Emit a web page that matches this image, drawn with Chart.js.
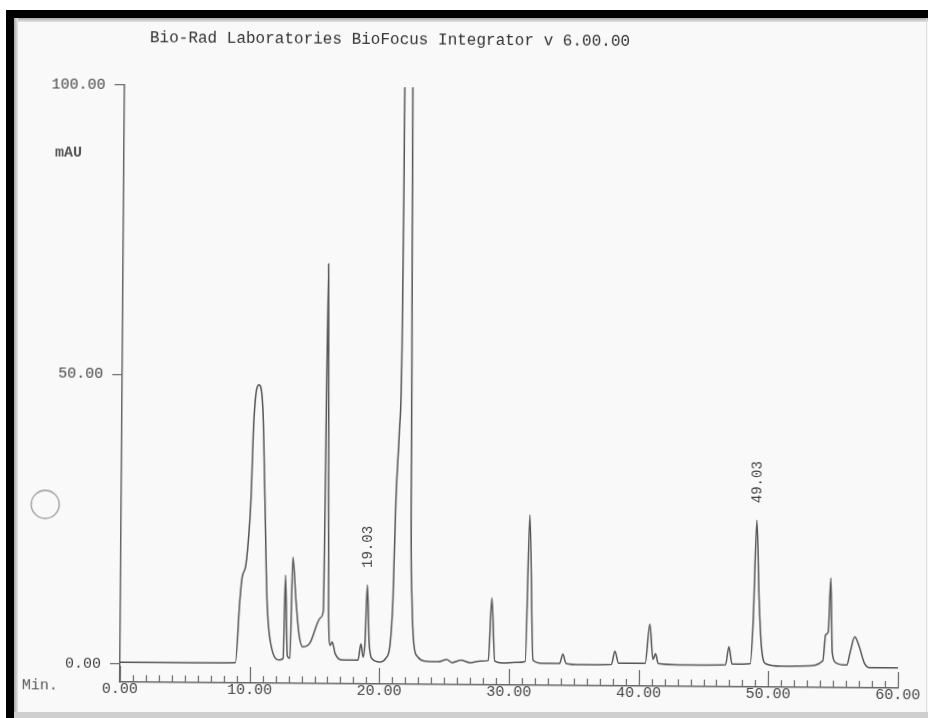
<!DOCTYPE html>
<html>
<head>
<meta charset="utf-8">
<script src="https://cdn.jsdelivr.net/npm/chart.js@4.4.1/dist/chart.umd.min.js"></script>
<style>
    body { margin: 0; width: 928px; height: 718px; overflow: hidden; background: #fff; position: relative; }
    .paper { position: absolute; left: 14px; top: 18px; right: 0; bottom: 0; background: #f9f9f9; }
    .edge-top { position: absolute; left: 14px; top: 18px; right: 0; height: 4px; background: linear-gradient(#a8a8a8, #e6e6e6); z-index: 3; }
    .edge-left { position: absolute; left: 14px; top: 18px; width: 4px; bottom: 6px; background: linear-gradient(90deg, #a8a8a8, #e6e6e6); z-index: 3; }
    .bar-top { position: absolute; left: 6px; top: 10px; right: 0; height: 8px; background: #000; z-index: 4; }
    .bar-left { position: absolute; left: 6px; top: 10px; width: 8px; bottom: 0; background: #000; z-index: 4; }
    .bar-bottom { position: absolute; left: 14px; right: 0; top: 712px; bottom: 0; background: #cfcfcf; z-index: 3; }
    .edge-right { position: absolute; top: 18px; bottom: 6px; left: 926px; width: 1px; background: #dedede; z-index: 3; }
    #chart { position: absolute; left: 0; top: 0; z-index: 2; transform-origin: 120px 664px; transform: rotate(0.45deg); }
</style>
</head>
<body>
<div class="paper"></div>
<canvas id="chart" width="928" height="718"></canvas>
<div class="edge-top"></div>
<div class="edge-left"></div>
<div class="edge-right"></div>
<div class="bar-bottom"></div>
<div class="bar-top"></div>
<div class="bar-left"></div>
<script>
// trace: migration time (min) and absorbance (mAU)
var timeMin = [
    0.0, 8.9, 9.2, 9.36, 9.65, 9.88, 10.0, 10.18, 10.55, 10.87, 11.08, 11.3, 11.63, 12.3,
    12.58, 12.71, 12.9, 13.1, 13.27, 13.53, 13.79, 14.1, 14.64, 15.45, 15.65, 15.85, 16.05,
    16.2, 16.35, 16.6, 17.2, 18.35, 18.57, 18.75, 18.88, 19.03, 19.2, 19.45, 20.04,
    20.51, 20.81, 21.01, 21.18, 21.41, 21.55, 21.61, 21.62, 21.93, 22.24, 22.28, 22.33,
    22.36, 22.48, 22.66, 22.97, 23.5, 24.5, 25.2, 25.6, 26.3, 27.0, 27.8, 28.4, 28.64,
    28.9, 29.5, 30.5, 31.25, 31.52, 31.85, 32.5, 33.9, 34.15, 34.4, 35.5, 37.9, 38.16,
    38.45, 40.5, 40.84, 41.1, 41.3, 41.5, 43.0, 46.7, 46.95, 47.2, 48.6, 48.8, 49.03,
    49.25, 49.45, 49.8, 51.0, 53.0, 54.2, 54.4, 54.6, 54.77, 54.92, 55.2, 56.05, 56.3,
    56.65, 57.0, 57.4, 57.8, 60.0
]
var absMAU = [
    0.3, 0.4, 11.0, 15.0, 17.3, 23.3, 28.5, 42.3, 48.4, 44.1, 28.5, 11.2, 3.5, 0.9,
    1.2, 15.6, 1.6, 1.2, 18.7, 11.3, 5.3, 3.2, 3.9, 8.3, 9.5, 69.4, 10.0,
    3.5, 4.1, 2.0, 1.0, 1.0, 3.8, 1.5, 4.0, 14.0, 4.0, 1.2, 0.7,
    1.4, 3.6, 11.4, 28.7, 40.8, 52.9, 80.5, 100.0, 140.0, 100.0, 75.0, 52.9,
    28.7, 11.4, 3.6, 1.6, 0.9, 0.8, 1.2, 0.7, 1.1, 0.7, 1.0, 1.1, 11.9,
    1.0, 0.7, 0.8, 1.0, 26.3, 1.2, 0.7, 0.7, 2.3, 0.7, 0.5, 0.6, 2.9,
    0.8, 0.8, 7.6, 1.5, 2.5, 0.8, 0.6, 0.7, 3.8, 0.8, 0.9, 8.0, 25.7,
    12.0, 4.0, 0.9, 0.5, 0.6, 1.5, 6.0, 6.5, 15.8, 3.0, 1.2, 0.8, 3.0,
    5.7, 4.0, 1.2, 0.4, 0.4
]
var xTicks = [0, 10, 20, 30, 40, 50, 60]
var yTicks = [0, 50, 100]
var peakLabels = ["19.03", "49.03"]
var peakTimes = [19.03, 49.03]
var peakMAU = [14.0, 25.7]

var mono = "'Liberation Mono', 'DejaVu Sans Mono', monospace"

var points = timeMin.map(function (t, i) {
    return { x: t, y: absMAU[i] }
})

var printout = {
    id: "printout",
    afterDraw: function (chart) {
        var ctx = chart.ctx
        var xs = chart.scales.x
        var ys = chart.scales.y
        var area = chart.chartArea
        ctx.save()
        // ruler ticks, every minute, long ones every ten
        ctx.strokeStyle = "#666"
        ctx.lineWidth = 1.2
        for (var m = 0; m <= 60; m++) {
            var px = Math.round(xs.getPixelForValue(m)) + 0.5
            var len = m % 10 === 0 ? 16 : 7
            ctx.beginPath()
            ctx.moveTo(px, area.bottom)
            ctx.lineTo(px, area.bottom - len)
            ctx.stroke()
        }
        ctx.fillStyle = "#333"
        ctx.textBaseline = "middle"
        ctx.textAlign = "left"
        ctx.font = "16px " + mono
        ctx.fillText("Bio-Rad Laboratories BioFocus Integrator v 6.00.00", 145, 38)
        ctx.font = "bold 15px " + mono
        ctx.fillStyle = "#555"
        ctx.fillText("mAU", 51, 153)
        ctx.font = "15px " + mono
        ctx.fillText("Min.", 22, 686)
        // peak annotations, printed sideways
        ctx.font = "14px " + mono
        ctx.fillStyle = "#444"
        peakLabels.forEach(function (label, i) {
            var lx = xs.getPixelForValue(peakTimes[i]) + 1
            var ly = ys.getPixelForValue(peakMAU[i]) - 38
            ctx.save()
            ctx.translate(lx, ly)
            ctx.rotate(-Math.PI / 2)
            ctx.textAlign = "center"
            ctx.fillText(label, 0, 0)
            ctx.restore()
        })
        // punch hole mark on the scan
        ctx.strokeStyle = "#999"
        ctx.lineWidth = 1.3
        ctx.beginPath()
        ctx.arc(44, 505, 14, 0, Math.PI * 2)
        ctx.stroke()
        ctx.restore()
    }
}

var CHART = new Chart(document.getElementById("chart"), {
    type: "line",
    data: {
        datasets: [{
            data: points,
            borderColor: "#555",
            borderWidth: 1.5,
            pointRadius: 0,
            fill: false,
            cubicInterpolationMode: "monotone"
        }]
    },
    options: {
        responsive: false,
        animation: false,
        layout: { padding: { left: 0, top: 85, right: 30, bottom: 0 } },
        plugins: { legend: { display: false }, tooltip: { enabled: false }, title: { display: false } },
        scales: {
            x: {
                type: "linear",
                min: 0,
                max: 60,
                afterBuildTicks: function (axis) {
                    axis.ticks = xTicks.map(function (v) { return { value: v } })
                },
                afterFit: function (axis) { axis.height = 36 },
                grid: { drawOnChartArea: false, drawTicks: false, color: "rgba(0,0,0,0)" },
                border: { display: true, color: "#666", width: 1.5 },
                ticks: {
                    padding: -2,
                    maxRotation: 0,
                    autoSkip: false,
                    color: "#444",
                    font: { family: mono, size: 15 },
                    callback: function (v) { return Number(v).toFixed(2) }
                }
            },
            y: {
                min: -3.11,
                max: 100,
                afterBuildTicks: function (axis) {
                    axis.ticks = yTicks.map(function (v) { return { value: v } })
                },
                afterFit: function (axis) { axis.width = 120 },
                grid: { drawOnChartArea: false, drawTicks: true, tickLength: 10, color: "#777", lineWidth: 1.3 },
                border: { display: true, color: "#666", width: 1.5 },
                ticks: {
                    padding: 9,
                    autoSkip: false,
                    color: "#444",
                    font: { family: mono, size: 15 },
                    callback: function (v) { return Number(v).toFixed(2) }
                }
            }
        }
    },
    plugins: [printout]
})
</script>
</body>
</html>
